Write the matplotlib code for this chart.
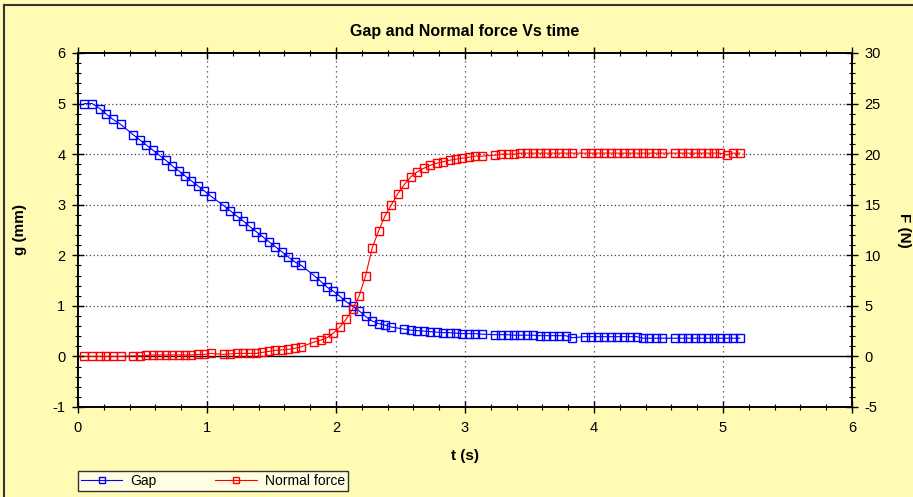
import matplotlib
matplotlib.use("Agg")
import matplotlib.pyplot as plt
from matplotlib.ticker import MultipleLocator

plt.rcParams['font.family'] = ['Liberation Sans', 'DejaVu Sans']
plt.rcParams['axes.unicode_minus'] = False

title = "Gap and Normal force Vs time"
xlabel = "t (s)"
ylabel_left = "g (mm)"
ylabel_right = "F (N)"
gap_label = "Gap"
force_label = "Normal force"

t_gap = [0.05, 0.11, 0.17, 0.22, 0.27, 0.33,
         0.43, 0.48, 0.53, 0.58, 0.63, 0.68, 0.73, 0.78, 0.83, 0.88, 0.93, 0.98, 1.03,
         1.13, 1.18, 1.23, 1.28, 1.33, 1.38, 1.43, 1.48, 1.53, 1.58, 1.63, 1.68, 1.73,
         1.83, 1.88, 1.93, 1.98, 2.03, 2.08, 2.13, 2.18, 2.23, 2.28, 2.33, 2.38, 2.43,
         2.53, 2.58, 2.63, 2.68, 2.73, 2.78, 2.83, 2.88, 2.93, 2.98, 3.03, 3.08, 3.13,
         3.23, 3.28, 3.33, 3.38, 3.43, 3.48, 3.53, 3.58, 3.63, 3.68, 3.73, 3.78, 3.83,
         3.93, 3.98, 4.03, 4.08, 4.13, 4.18, 4.23, 4.28, 4.33, 4.38, 4.43, 4.48, 4.53,
         4.63, 4.68, 4.73, 4.78, 4.83, 4.88, 4.93, 4.98, 5.03, 5.08, 5.13]

gap_mm = [5.00, 5.00, 4.90, 4.79, 4.69, 4.59,
          4.38, 4.28, 4.18, 4.08, 3.98, 3.88, 3.77, 3.67, 3.57, 3.47, 3.37, 3.27, 3.17,
          2.98, 2.88, 2.78, 2.68, 2.57, 2.47, 2.37, 2.27, 2.17, 2.07, 1.97, 1.87, 1.80,
          1.60, 1.49, 1.37, 1.29, 1.19, 1.08, 0.99, 0.90, 0.79, 0.70, 0.65, 0.62, 0.58,
          0.54, 0.52, 0.51, 0.50, 0.49, 0.48, 0.47, 0.47, 0.46, 0.45, 0.45, 0.45, 0.44,
          0.43, 0.43, 0.43, 0.42, 0.42, 0.42, 0.42, 0.41, 0.41, 0.41, 0.41, 0.41, 0.37,
          0.39, 0.39, 0.39, 0.39, 0.39, 0.39, 0.39, 0.39, 0.39, 0.36, 0.36, 0.36, 0.36,
          0.36, 0.36, 0.36, 0.36, 0.36, 0.36, 0.36, 0.36, 0.36, 0.36, 0.36]

t_force = [0.05, 0.11, 0.17, 0.22, 0.27, 0.33,
           0.43, 0.48, 0.53, 0.58, 0.63, 0.68, 0.73, 0.78, 0.83, 0.88, 0.93, 0.98, 1.03,
           1.13, 1.18, 1.23, 1.28, 1.33, 1.38, 1.43, 1.48, 1.53, 1.58, 1.63, 1.68, 1.73,
           1.83, 1.88, 1.93, 1.98, 2.03, 2.08, 2.13, 2.18, 2.23, 2.28, 2.33, 2.38, 2.43, 2.48,
           2.53, 2.58, 2.63, 2.68, 2.73, 2.78, 2.83, 2.88, 2.93, 2.98, 3.03, 3.08, 3.13,
           3.23, 3.28, 3.33, 3.38, 3.43, 3.48, 3.53, 3.58, 3.63, 3.68, 3.73, 3.78, 3.83,
           3.93, 3.98, 4.03, 4.08, 4.13, 4.18, 4.23, 4.28, 4.33, 4.38, 4.43, 4.48, 4.53,
           4.63, 4.68, 4.73, 4.78, 4.83, 4.88, 4.93, 4.98, 5.03, 5.08, 5.13]

force_N = [0.0, 0.0, 0.0, 0.0, 0.0, 0.0,
           0.05, 0.05, 0.1, 0.15, 0.15, 0.15, 0.15, 0.15, 0.15, 0.15, 0.2, 0.2, 0.3,
           0.2, 0.25, 0.3, 0.3, 0.3, 0.3, 0.4, 0.5, 0.6, 0.65, 0.7, 0.8, 0.95,
           1.42, 1.6, 1.85, 2.3, 2.9, 3.7, 4.7, 6.0, 8.0, 10.7, 12.4, 13.9, 15.0, 16.1,
           17.0, 17.75, 18.25, 18.6, 18.9, 19.1, 19.25, 19.4, 19.5, 19.6, 19.7, 19.8, 19.8,
           19.9, 20.0, 20.0, 20.0, 20.1, 20.1, 20.1, 20.1, 20.1, 20.1, 20.1, 20.1, 20.1,
           20.1, 20.1, 20.1, 20.1, 20.1, 20.1, 20.1, 20.1, 20.1, 20.1, 20.1, 20.1, 20.1,
           20.1, 20.1, 20.1, 20.1, 20.1, 20.1, 20.1, 20.1, 19.9, 20.1, 20.1]

bg = '#FFFBB4'
fig = plt.figure(figsize=(9.13, 4.97), dpi=100, facecolor=bg)
ax = fig.add_axes([0.0854, 0.1811, 0.8478, 0.7123])
ax.set_facecolor('white')
ax2 = ax.twinx()

ax.set_xlim(0, 6)
ax.set_ylim(-1, 6)
ax2.set_ylim(-5, 30)

# grid
for xv in [1, 2, 3, 4, 5]:
    ax.axvline(xv, color='#404040', linestyle=(0, (1, 3)), linewidth=0.9, zorder=1)
for yv in [1, 2, 3, 4, 5]:
    ax.axhline(yv, color='#404040', linestyle=(0, (1, 2)), linewidth=0.9, zorder=1)
ax.axhline(0, color='black', linewidth=1.0, zorder=1)

l1, = ax.plot(t_gap, gap_mm, color='#0000FF', linewidth=0.8, marker='s',
              markersize=6.3, markerfacecolor='none', markeredgecolor='#0000FF',
              markeredgewidth=1.0, label=gap_label, zorder=3)
l2, = ax2.plot(t_force, force_N, color='#FF0000', linewidth=0.8, marker='s',
               markersize=6.3, markerfacecolor='none', markeredgecolor='#FF0000',
               markeredgewidth=1.0, label=force_label, zorder=3)

ax.xaxis.set_major_locator(MultipleLocator(1))
ax.xaxis.set_minor_locator(MultipleLocator(0.2))
ax.yaxis.set_major_locator(MultipleLocator(1))
ax.yaxis.set_minor_locator(MultipleLocator(0.2))
ax2.yaxis.set_major_locator(MultipleLocator(5))
ax2.yaxis.set_minor_locator(MultipleLocator(1))

ax.tick_params(axis='x', which='major', direction='inout', length=8, width=1,
               top=True, labelsize=10.5, pad=6)
ax.tick_params(axis='x', which='minor', direction='inout', length=5, width=0.8, top=True)
ax.tick_params(axis='y', which='major', direction='inout', length=8, width=1,
               labelsize=10.5, pad=5)
ax.tick_params(axis='y', which='minor', direction='inout', length=5, width=0.8)
ax2.tick_params(axis='y', which='major', direction='inout', length=8, width=1,
                labelsize=10.5, pad=5)
ax2.tick_params(axis='y', which='minor', direction='inout', length=5, width=0.8)

for a in (ax, ax2):
    for s in a.spines.values():
        s.set_linewidth(1.2)

ax.set_title(title, fontsize=11.5, fontweight='bold', pad=12)
ax.set_xlabel(xlabel, fontsize=11, fontweight='bold', labelpad=10)
ax.set_ylabel(ylabel_left, fontsize=11, fontweight='bold', labelpad=18)
ax2.set_ylabel(ylabel_right, fontsize=11, fontweight='bold', rotation=-90, labelpad=22)

leg = fig.legend(handles=[l1, l2], loc='lower left', bbox_to_anchor=(0.0854, 0.012),
                 borderaxespad=0, ncol=2, fontsize=10, frameon=True, fancybox=False,
                 handlelength=3, columnspacing=4.2, borderpad=0.2, handletextpad=0.6,
                 markerscale=0.7)
leg.get_frame().set_edgecolor('black')
leg.get_frame().set_linewidth(1.0)
leg.get_frame().set_facecolor('#FFFEEE')

# figure border (top and left dark edges)
fig.add_artist(plt.Line2D([0.004, 0.004], [0, 0.99], transform=fig.transFigure,
                          color='#333333', linewidth=1.5))
fig.add_artist(plt.Line2D([0.004, 1.0], [0.99, 0.99], transform=fig.transFigure,
                          color='#333333', linewidth=1.5))

fig.savefig('out.png', dpi=100, facecolor=bg)
